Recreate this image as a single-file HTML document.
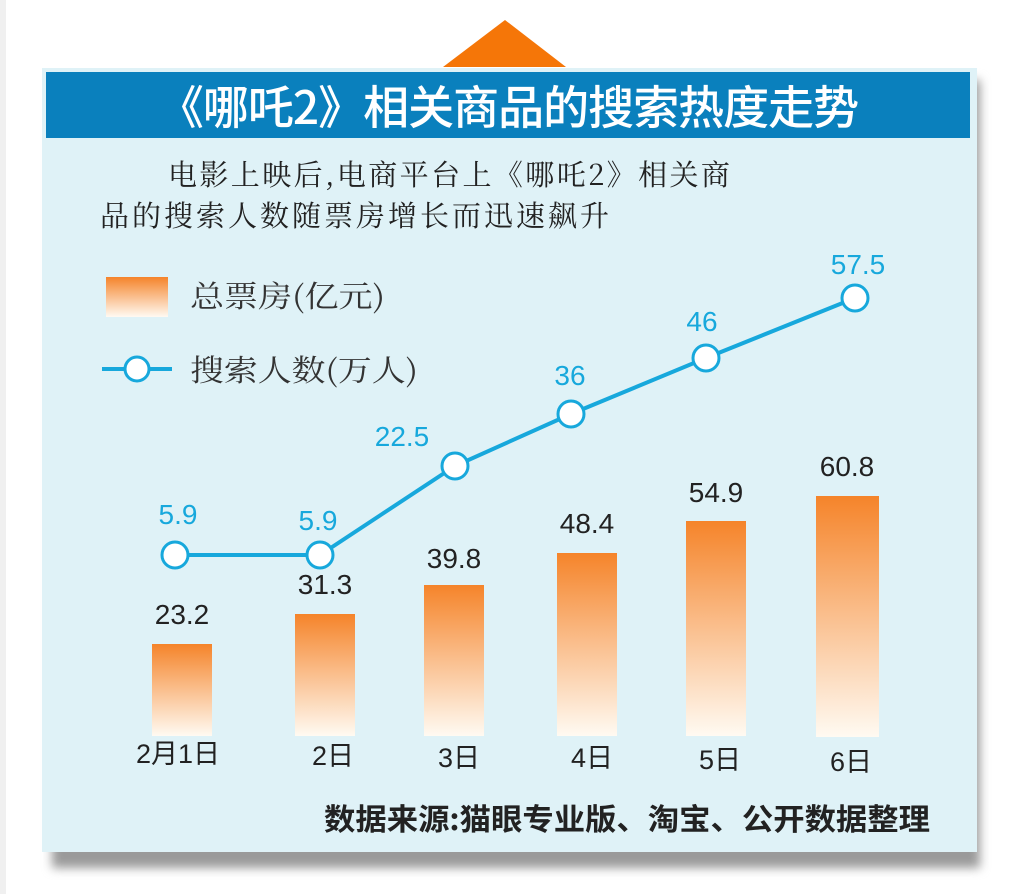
<!DOCTYPE html>
<html><head><meta charset="utf-8"><style>
body{margin:0;background:#fff;width:1023px;height:894px;overflow:hidden;position:relative;font-family:"Liberation Sans","Noto Sans CJK SC",sans-serif}
.a{position:absolute}
</style></head><body>
<div class="a" style="left:0;top:0;width:6px;height:894px;background:#f0f0f0"></div>
<div class="a" style="left:52px;top:80px;width:928px;height:788px;background:#9a9a9a;filter:blur(5px)"></div>
<svg class="a" style="left:0;top:0" width="1023" height="894">
<polygon points="505,20 443,67 566,67" fill="#f57608"/>
</svg>
<div class="a" style="left:42px;top:68px;width:935px;height:784px;background:#dff2f7"></div>
<div class="a" style="left:46px;top:72px;width:924px;height:66px;background:#0a80bd"></div>
<div class="a" style="left:46px;top:74px;width:924px;text-align:center;color:#fff;font-size:46px;font-weight:500;font-family:'Noto Sans CJK SC',sans-serif;letter-spacing:-1px;line-height:62px">《哪吒2》相关商品的搜索热度走势</div>
<div class="a" style="left:168px;top:153px;font-size:29px;font-family:'Noto Serif CJK SC',serif;color:#222;letter-spacing:2.4px">电影上映后,电商平台上《哪吒2》相关商</div>
<div class="a" style="left:100px;top:194px;font-size:29px;font-family:'Noto Serif CJK SC',serif;color:#222;letter-spacing:3px">品的搜索人数随票房增长而迅速飙升</div>
<svg class="a" style="left:0;top:0" width="1023" height="894">
<defs><linearGradient id="g" x1="0" y1="0" x2="0" y2="1"><stop offset="0" stop-color="#f5842a"/><stop offset="1" stop-color="#fffaf2"/></linearGradient></defs>
<rect x="106" y="277" width="62" height="40" fill="url(#g)"/>
<text x="190" y="307" font-size="30" fill="#333" font-family="Noto Serif CJK SC" textLength="195" lengthAdjust="spacingAndGlyphs">总票房(亿元)</text>
<line x1="102" y1="369" x2="172" y2="369" stroke="#17a8dc" stroke-width="4"/>
<circle cx="137" cy="369" r="12" fill="#fff" stroke="#17a8dc" stroke-width="3"/>
<text x="190" y="381" font-size="30" fill="#333" font-family="Noto Serif CJK SC" textLength="228" lengthAdjust="spacingAndGlyphs">搜索人数(万人)</text>
<g fill="url(#g)">
<rect x="152" y="644" width="60" height="92"/>
<rect x="295" y="614" width="60" height="122"/>
<rect x="424" y="585" width="60" height="151"/>
<rect x="557" y="553" width="60" height="183"/>
<rect x="686" y="521" width="60" height="215"/>
<rect x="816" y="496" width="63" height="241"/>
</g>
<g font-size="28" fill="#222" text-anchor="middle">
<text x="182" y="624">23.2</text><text x="325" y="594">31.3</text><text x="454" y="568">39.8</text>
<text x="587" y="533">48.4</text><text x="716" y="502">54.9</text><text x="847" y="476">60.8</text>
</g>
<polyline points="175,555 320,555 455,466 571,414 706,358 855,298" fill="none" stroke="#17a8dc" stroke-width="4"/>
<g fill="#fff" stroke="#17a8dc" stroke-width="3">
<circle cx="175" cy="555" r="13"/><circle cx="320" cy="555" r="13"/><circle cx="455" cy="466" r="13"/>
<circle cx="571" cy="414" r="13"/><circle cx="706" cy="358" r="13"/><circle cx="855" cy="298" r="13"/>
</g>
<g font-size="28" fill="#17a8dc" text-anchor="middle">
<text x="178" y="524">5.9</text><text x="318" y="530">5.9</text><text x="402" y="446">22.5</text>
<text x="570" y="385">36</text><text x="702" y="331">46</text><text x="858" y="274">57.5</text>
</g>
<g font-size="27" fill="#222" text-anchor="middle" font-family="Liberation Sans,Noto Sans CJK SC">
<text x="178" y="763">2月1日</text><text x="333" y="765">2日</text><text x="459" y="767">3日</text>
<text x="592" y="767">4日</text><text x="720" y="769">5日</text><text x="851" y="771">6日</text>
</g>
<text x="324" y="830" font-size="30" font-weight="bold" fill="#222" font-family="Noto Sans CJK SC" textLength="606" lengthAdjust="spacingAndGlyphs">数据来源:猫眼专业版、淘宝、公开数据整理</text>
</svg>
</body></html>
